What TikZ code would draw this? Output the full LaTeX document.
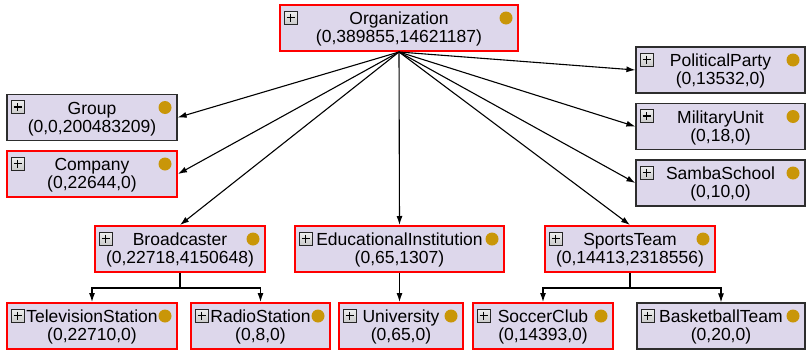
\documentclass[tikz,border=0pt]{standalone}
\usepackage{fontspec}
\setmainfont{Liberation Sans}
\usepackage{xcolor}
\usepackage{tikz}
\usetikzlibrary{arrows.meta}

\definecolor{boxfill}{RGB}{221,215,235}
\definecolor{dotgold}{RGB}{201,150,8}
\definecolor{edgegray}{RGB}{45,45,45}

\tikzset{
	cls/.style={rectangle, fill=boxfill, inner sep=0pt, minimum height=46pt,
		align=center, font=\fontsize{17.5}{18}\selectfont,
		path picture={
			\shade[top color=white, bottom color=black!50, draw=black!85, line width=0.8pt]
				([xshift=4pt,yshift=-6pt]path picture bounding box.north west) rectangle ++(13pt,-13pt);
			\draw[draw=black, line width=1.4pt] ([xshift=10.5pt,yshift=-8.5pt]path picture bounding box.north west) -- ++(0pt,-8pt);
			\draw[draw=black, line width=1.4pt] ([xshift=6.5pt,yshift=-12.5pt]path picture bounding box.north west) -- ++(8pt,0pt);
			\fill[dotgold] ([xshift=-12pt,yshift=-13pt]path picture bounding box.north east) circle (6.5pt);
		}},
	sel/.style={cls, draw=red, line width=2pt},
	plain/.style={cls, draw=edgegray, line width=1.2pt},
	link/.style={line width=1.1pt, -{Latex[length=9pt,width=6pt]}}
}

\begin{document}
\begin{tikzpicture}[x=1pt, y=-1pt]
	\useasboundingbox (0,0) rectangle (806,351);
	
	% Root
	\node[sel, minimum width=238pt] (org) at (399,28) {\rule{0pt}{15pt}Organization\\(0,389855,14621187)};
	
	% Left column
	\node[plain, minimum width=170pt] (grp) at (92,117.5) {\rule{0pt}{15pt}Group\\(0,0,200483209)};
	\node[sel, minimum width=170pt] (comp) at (92,174) {\rule{0pt}{15pt}Company\\(0,22644,0)};
	
	% Right column
	\node[plain, minimum width=169pt] (party) at (720.5,70) {\rule{0pt}{15pt}PoliticalParty\\(0,13532,0)};
	\node[plain, minimum width=169pt] (military) at (720.5,126.5) {\rule{0pt}{15pt}MilitaryUnit\\(0,18,0)};
	\node[plain, minimum width=169pt] (samba) at (720.5,183) {\rule{0pt}{15pt}SambaSchool\\(0,10,0)};
	
	% Middle row
	\node[sel, minimum width=170pt] (broad) at (180,249) {\rule{0pt}{15pt}Broadcaster\\(0,22718,4150648)};
	\node[sel, minimum width=209pt] (edu) at (399.5,249) {\rule{0pt}{15pt}EducationalInstitution\\(0,65,1307)};
	\node[sel, minimum width=170pt] (sports) at (630,249) {\rule{0pt}{15pt}SportsTeam\\(0,14413,2318556)};
	
	% Bottom row
	\node[sel, minimum width=170pt] (tv) at (92,326) {\rule{0pt}{15pt}TelevisionStation\\(0,22710,0)};
	\node[sel, minimum width=139pt] (radio) at (260.5,326) {\rule{0pt}{15pt}RadioStation\\(0,8,0)};
	\node[sel, minimum width=124pt] (univ) at (401,326) {\rule{0pt}{15pt}University\\(0,65,0)};
	\node[sel, minimum width=140pt] (soccer) at (543,326) {\rule{0pt}{15pt}SoccerClub\\(0,14393,0)};
	\node[plain, minimum width=168pt] (basket) at (721,326) {\rule{0pt}{15pt}BasketballTeam\\(0,20,0)};
	
	% Edges from the root
	\draw[link] (org.south) -- (grp.east);
	\draw[link] (org.south) -- (comp.east);
	\draw[link] (org.south) -- (broad.north);
	\draw[link] (org.south) -- (edu.north);
	\draw[link] (org.south) -- (sports.north);
	\draw[link] (org.south) -- (party.west);
	\draw[link] (org.south) -- (military.west);
	\draw[link] (org.south) -- (samba.west);
	
	% Edges to the bottom row
	\draw[link] (broad.south) -- ++(0,15) -| (tv.north);
	\draw[link] (broad.south) -- ++(0,15) -| (radio.north);
	\draw[link] (edu.south) -- (edu.south |- univ.north);
	\draw[link] (sports.south) -- ++(0,15) -| (soccer.north);
	\draw[link] (sports.south) -- ++(0,15) -| (basket.north);
\end{tikzpicture}
\end{document}
